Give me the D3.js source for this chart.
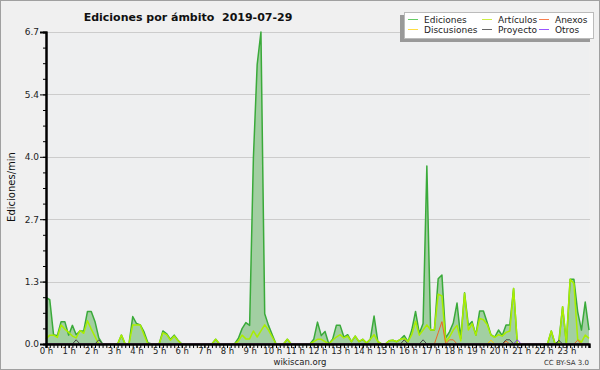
<!DOCTYPE html>
<html>
<head>
<meta charset="utf-8">
<script src="https://cdn.jsdelivr.net/npm/d3@7"></script>
<style>
body { margin: 0; background: #f0f0f0; }
svg { display: block; }
text { font-family: "DejaVu Sans", sans-serif; }
</style>
</head>
<body>
<div class="mainviz"></div>
<script>
// one value every 10 minutes, 00:00 -> 24:00
var ediciones = [
	1.0, 0.95, 0.2, 0.18, 0.48, 0.48, 0.19, 0.4, 0.2, 0.28, 0.28, 0.7,
	0.7, 0.48, 0.13, 0, 0, 0, 0, 0, 0.19, 0, 0, 0.59,
	0.44, 0.41, 0.26, 0.03, 0, 0, 0, 0.28, 0.22, 0.1, 0.19, 0.08,
	0, 0, 0, 0, 0, 0, 0, 0, 0, 0.1, 0, 0,
	0, 0, 0, 0.12, 0.33, 0.46, 0.4, 4.0, 6.0, 6.7, 0.65, 0.4,
	0.2, 0, 0, 0, 0.1, 0, 0, 0, 0, 0, 0, 0.1,
	0.47, 0.18, 0.27, 0, 0.1, 0.4, 0.4, 0.15, 0.2, 0.05, 0.17, 0.05,
	0.1, 0.02, 0.1, 0.6, 0.05, 0, 0, 0.07, 0.08, 0.05, 0.1, 0.18,
	0.05, 0.3, 0.7, 0.23, 0.44, 3.82, 0.3, 0.3, 1.4, 1.48, 0.13, 0.26,
	0.45, 0.88, 0.12, 1.1, 0.4, 0.48, 0.19, 0.71, 0.71, 0.46, 0.2, 0.15,
	0.3, 0.18, 0.41, 0.41, 1.19, 0, 0, 0, 0, 0, 0, 0,
	0, 0, 0.28, 0, 0.05, 0.8, 0.02, 1.39, 1.39, 0.69, 0.3, 0.9,
	0.3
];
var articulos = [
	0.11, 0.19, 0.19, 0.14, 0.41, 0.32, 0.25, 0.17, 0.13, 0.29, 0.23, 0.5,
	0.32, 0.16, 0, 0, 0, 0, 0, 0, 0.19, 0, 0, 0.41,
	0.41, 0.41, 0.2, 0, 0, 0, 0, 0.24, 0.2, 0.08, 0.17, 0.07,
	0, 0, 0, 0, 0, 0, 0, 0, 0, 0.1, 0, 0,
	0, 0, 0, 0.06, 0.19, 0.11, 0.11, 0.28, 0.15, 0.28, 0.41, 0.3,
	0.15, 0, 0, 0, 0.1, 0, 0, 0, 0, 0, 0, 0.05,
	0.1, 0.1, 0.05, 0, 0.08, 0.15, 0.2, 0.13, 0.17, 0.05, 0.17, 0.05,
	0.1, 0.02, 0.1, 0.2, 0.05, 0, 0, 0.07, 0.08, 0.05, 0.1, 0.12,
	0.05, 0.2, 0.49, 0.19, 0.3, 0.41, 0.3, 0.3, 1.07, 1.03, 0.05, 0.15,
	0.3, 0.4, 0.07, 1.09, 0.3, 0.44, 0.19, 0.55, 0.52, 0.42, 0.19, 0.14,
	0.2, 0.17, 0.25, 0.28, 1.19, 0, 0, 0, 0, 0, 0, 0,
	0, 0, 0.28, 0, 0, 0.8, 0.02, 1.39, 1.3, 0.1, 0.04, 0.19,
	0.12
];
var discusiones = [
	0, 0, 0, 0, 0, 0, 0, 0, 0, 0, 0, 0,
	0, 0, 0, 0, 0, 0, 0, 0, 0, 0, 0, 0,
	0, 0, 0, 0, 0, 0, 0, 0, 0, 0, 0, 0,
	0, 0, 0, 0, 0, 0, 0, 0, 0, 0, 0, 0,
	0, 0, 0, 0, 0, 0, 0, 0, 0, 0, 0, 0,
	0, 0, 0, 0, 0, 0, 0, 0, 0, 0, 0, 0,
	0, 0, 0, 0, 0, 0, 0, 0, 0, 0, 0, 0,
	0, 0, 0, 0, 0, 0, 0, 0, 0, 0, 0, 0,
	0, 0, 0, 0, 0, 0, 0, 0, 0, 0, 0, 0,
	0, 0, 0, 0, 0, 0, 0, 0, 0, 0, 0.08, 0,
	0, 0, 0, 0, 0, 0, 0, 0, 0, 0, 0, 0,
	0, 0, 0, 0, 0, 0, 0, 0, 0, 0, 0, 0,
	0
];
var proyecto = [
	0, 0, 0, 0, 0, 0, 0, 0, 0.09, 0, 0, 0,
	0, 0, 0.09, 0, 0, 0, 0, 0, 0, 0, 0, 0,
	0, 0, 0, 0, 0, 0, 0, 0, 0, 0, 0, 0,
	0, 0, 0, 0, 0, 0, 0, 0, 0, 0, 0, 0,
	0, 0, 0, 0, 0, 0, 0, 0, 0, 0, 0, 0,
	0, 0, 0, 0, 0, 0, 0, 0, 0, 0, 0, 0,
	0, 0, 0, 0, 0, 0, 0, 0, 0, 0, 0, 0,
	0, 0, 0, 0, 0, 0, 0, 0, 0, 0, 0, 0.09,
	0, 0, 0, 0, 0.09, 0, 0, 0, 0, 0, 0, 0,
	0, 0, 0, 0, 0, 0, 0, 0, 0, 0, 0, 0,
	0, 0, 0.09, 0.09, 0, 0, 0, 0, 0, 0, 0, 0,
	0, 0, 0, 0, 0.08, 0, 0, 0, 0, 0, 0, 0,
	0
];
var anexos = [
	0, 0, 0, 0, 0, 0, 0, 0, 0, 0, 0, 0,
	0, 0, 0, 0, 0, 0, 0, 0, 0, 0, 0, 0,
	0, 0, 0, 0, 0, 0, 0, 0, 0, 0, 0, 0,
	0, 0, 0, 0, 0, 0, 0, 0, 0, 0, 0, 0,
	0, 0, 0, 0, 0, 0, 0, 0, 0, 0, 0, 0,
	0, 0, 0, 0, 0, 0, 0, 0, 0, 0, 0, 0,
	0, 0, 0, 0, 0, 0, 0, 0, 0, 0, 0, 0,
	0, 0, 0, 0, 0, 0, 0, 0, 0, 0, 0, 0,
	0, 0, 0, 0, 0, 0, 0, 0, 0.24, 0.48, 0, 0.09,
	0.09, 0, 0, 0, 0, 0, 0, 0, 0, 0, 0, 0,
	0, 0, 0.06, 0, 0, 0, 0, 0, 0, 0, 0, 0,
	0, 0, 0, 0, 0, 0, 0, 0, 0, 0.08, 0, 0,
	0
];
var otros = [
	0, 0, 0, 0, 0, 0, 0, 0, 0, 0, 0, 0,
	0, 0, 0, 0, 0, 0, 0, 0, 0, 0, 0, 0,
	0, 0, 0, 0, 0, 0, 0, 0, 0, 0, 0, 0,
	0, 0, 0, 0, 0, 0, 0, 0, 0, 0, 0, 0,
	0, 0, 0, 0, 0, 0, 0, 0, 0, 0, 0, 0,
	0, 0, 0, 0, 0, 0, 0, 0, 0, 0, 0, 0,
	0, 0, 0, 0, 0, 0, 0, 0, 0, 0, 0, 0,
	0, 0, 0, 0, 0, 0, 0, 0, 0, 0, 0, 0,
	0, 0, 0, 0, 0, 0, 0, 0, 0, 0, 0, 0,
	0, 0, 0, 0, 0, 0, 0, 0, 0, 0, 0, 0,
	0, 0, 0, 0, 0, 0.09, 0, 0, 0, 0, 0, 0,
	0, 0, 0, 0, 0, 0, 0, 0, 0, 0, 0, 0,
	0
];

var yTicks = [0, 1.34, 2.68, 4.02, 5.36, 6.7];
var yTickLabels = ["0.0", "1.3", "2.7", "4.0", "5.4", "6.7"];
var hourLabels = ["0 h","1 h","2 h","3 h","4 h","5 h","6 h","7 h","8 h","9 h","10 h","11 h",
	"12 h","13 h","14 h","15 h","16 h","17 h","18 h","19 h","20 h","21 h","22 h","23 h"];

var series = [
	{ name: "Ediciones", values: ediciones, color: "#3aaa3a", legend: "#6c6", width: 1.5 },
	{ name: "Artículos", values: articulos, color: "#aaee00", legend: "#cdee44", width: 1.5 },
	{ name: "Anexos", values: anexos, color: "#ee6622", legend: "#f87f4f", width: 1 },
	{ name: "Discusiones", values: discusiones, color: "#ffcc00", legend: "#fd4", width: 1 },
	{ name: "Proyecto", values: proyecto, color: "#444444", legend: "#666", width: 1 },
	{ name: "Otros", values: otros, color: "#8833ee", legend: "#9955ff", width: 1 }
];

var width = 600, height = 370;
var margin = { top: 32, right: 11, bottom: 26, left: 46 };
var plotW = width - margin.left - margin.right,
	plotH = height - margin.top - margin.bottom;

var svg = d3.select(".mainviz").append("svg")
	.attr("width", width)
	.attr("height", height);

svg.append("rect")
	.attr("x", 0.5).attr("y", 0.5)
	.attr("width", width - 1).attr("height", height - 1)
	.attr("fill", "#f0f0f0")
	.attr("stroke", "#a0a0a0");

var chartGroup = svg.append("g")
	.attr("transform", "translate(" + margin.left + "," + margin.top + ")");

var x = d3.scaleLinear().domain([0, 144]).range([0, plotW]);
var y = d3.scaleLinear().domain([0, 6.7]).range([plotH, 0]);

chartGroup.append("rect")
	.attr("width", plotW).attr("height", plotH)
	.attr("fill", "#eeeff0");

// grid
chartGroup.selectAll("line.grid")
	.data(yTicks.slice(1))
	.enter().append("line")
	.attr("class", "grid")
	.attr("x1", 0).attr("x2", plotW + 1)
	.attr("y1", function(d){ return Math.round(y(d)) + 0.5; })
	.attr("y2", function(d){ return Math.round(y(d)) + 0.5; })
	.attr("stroke", "#cccccc");

var area = d3.area()
	.x(function(d, i){ return x(i); })
	.y0(plotH)
	.y1(function(d){ return y(d); });

var line = d3.line()
	.x(function(d, i){ return x(i); })
	.y(function(d){ return y(d); });

chartGroup.append("path")
	.attr("d", area(ediciones))
	.attr("fill", "#a2cfa2");

// total first, detail series on top
series.forEach(function(s){
	chartGroup.append("path")
		.attr("d", line(s.values))
		.attr("fill", "none")
		.attr("stroke", s.color)
		.attr("stroke-width", s.width)
		.attr("stroke-linejoin", "round");
});

// axes
var yAxis = d3.axisLeft(y).tickValues(yTicks)
	.tickFormat(function(d, i){ return yTickLabels[i]; })
	.tickSize(6).tickPadding(1);
var yMinor = d3.axisLeft(y)
	.tickValues(d3.range(0, 21).map(function(k){ return k * 6.7 / 20; }))
	.tickFormat("").tickSize(3);

var xMinor = d3.axisBottom(x).tickValues(d3.range(0, 145)).tickFormat("").tickSize(4);
var xAxis = d3.axisBottom(x).tickValues(d3.range(0, 144, 6))
	.tickFormat(function(d){ return hourLabels[d / 6]; })
	.tickSize(4).tickPadding(0);

chartGroup.append("g").attr("class", "axis y").call(yMinor);
chartGroup.append("g").attr("class", "axis y").call(yAxis);
chartGroup.append("g").attr("class", "axis x")
	.attr("transform", "translate(0," + plotH + ")").call(xMinor);
chartGroup.append("g").attr("class", "axis x hours")
	.attr("transform", "translate(0," + plotH + ")").call(xAxis);

chartGroup.selectAll(".axis path").attr("stroke", "#000").attr("stroke-width", 2);
chartGroup.selectAll(".axis line").attr("stroke", "#000");
chartGroup.selectAll(".axis text")
	.attr("font-family", "DejaVu Sans").attr("font-size", 9).attr("fill", "#222");
chartGroup.selectAll(".hours text").attr("font-size", 8.5);

// titles
svg.append("text")
	.attr("x", 188).attr("y", 21)
	.attr("text-anchor", "middle")
	.attr("font-size", 11).attr("font-weight", "bold")
	.attr("fill", "#111")
	.attr("xml:space", "preserve")
	.text("Ediciones por ámbito  2019-07-29");

svg.append("text")
	.attr("transform", "translate(15,187) rotate(-90)")
	.attr("text-anchor", "middle")
	.attr("font-family", "DejaVu Sans Mono").attr("font-size", 10)
	.attr("fill", "#111")
	.text("Ediciones/min");

svg.append("text")
	.attr("x", 300).attr("y", 365)
	.attr("text-anchor", "middle")
	.attr("font-size", 8.5).attr("fill", "#222")
	.text("wikiscan.org");

svg.append("text")
	.attr("x", 589).attr("y", 365)
	.attr("text-anchor", "end")
	.attr("font-size", 7).attr("fill", "#333")
	.text("CC BY-SA 3.0");

// legend
var legend = svg.append("g").attr("transform", "translate(404,12)");
legend.append("rect")
	.attr("x", -4).attr("y", 3).attr("width", 190).attr("height", 27)
	.attr("fill", "#999");
legend.append("rect")
	.attr("x", 0.5).attr("y", 0.5).attr("width", 189).attr("height", 26)
	.attr("fill", "#fff").attr("stroke", "#bbb");

var legendOrder = ["Ediciones", "Artículos", "Anexos", "Discusiones", "Proyecto", "Otros"];
var colX = [4, 78, 135];
legendOrder.forEach(function(name, k){
	var s = series.filter(function(d){ return d.name == name; })[0];
	var cx = colX[k % 3], cy = k < 3 ? 7.5 : 17.5;
	legend.append("line")
		.attr("x1", cx).attr("x2", cx + 10)
		.attr("y1", cy).attr("y2", cy)
		.attr("stroke", s.legend);
	legend.append("text")
		.attr("x", cx + 16).attr("y", cy + 3.5)
		.attr("font-size", 9).attr("fill", "#222")
		.text(name);
});
</script>
</body>
</html>
